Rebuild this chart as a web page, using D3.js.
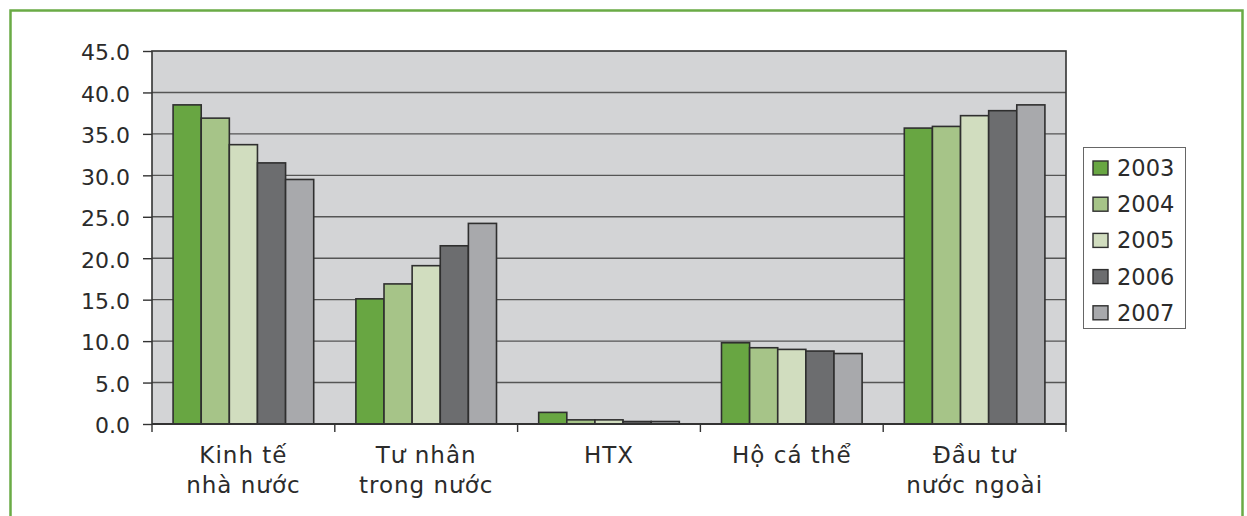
<!DOCTYPE html>
<html>
<head>
<meta charset="utf-8">
<script src="https://cdn.jsdelivr.net/npm/d3@7"></script>
<style>
  html, body { margin: 0; padding: 0; background: #fff; }
  svg { display: block; }
  text { font-family: "DejaVu Sans", sans-serif; fill: #2b2b2b; }
</style>
</head>
<body>
<svg id="chart" width="1247" height="516"></svg>
<script>
// Structure by ownership sector (%), 2003–2007
const categories = ["Kinh tế nhà nước", "Tư nhân trong nước", "HTX", "Hộ cá thể", "Đầu tư nước ngoài"];
const categoryLines = [["Kinh tế", "nhà nước"], ["Tư nhân", "trong nước"], ["HTX"], ["Hộ cá thể"], ["Đầu tư", "nước ngoài"]];
const years = ["2003", "2004", "2005", "2006", "2007"];
const values2003 = [38.5, 15.1, 1.4, 9.8, 35.7];
const values2004 = [36.9, 16.9, 0.5, 9.2, 35.9];
const values2005 = [33.7, 19.1, 0.5, 9.0, 37.2];
const values2006 = [31.5, 21.5, 0.3, 8.8, 37.8];
const values2007 = [29.5, 24.2, 0.3, 8.5, 38.5];
const yTicks = [0, 5, 10, 15, 20, 25, 30, 35, 40, 45];
const colors = ["#68a642", "#a6c488", "#d1ddbf", "#6c6d6f", "#a8a9ac"];

const series = [values2003, values2004, values2005, values2006, values2007];

const svg = d3.select("#chart");
const plot = { left: 152, top: 51, right: 1066, bottom: 424 };

// outer green frame
svg.append("rect")
  .attr("x", 10.5).attr("y", 10.5)
  .attr("width", 1232).attr("height", 520)
  .attr("fill", "none")
  .attr("stroke", "#6aab45")
  .attr("stroke-width", 2.5);

const y = d3.scaleLinear().domain([0, 45]).range([plot.bottom, plot.top]);
const x0 = d3.scaleBand().domain(categories).range([plot.left, plot.right]).padding(0);
const x1 = d3.scaleBand().domain(years).range([0, x0.bandwidth()]).paddingInner(0).paddingOuter(0.75);

// plot background
svg.append("rect")
  .attr("x", plot.left).attr("y", plot.top)
  .attr("width", plot.right - plot.left).attr("height", plot.bottom - plot.top)
  .attr("fill", "#d3d4d6");

// horizontal gridlines
svg.append("g")
  .selectAll("line")
  .data(yTicks.filter(d => d > 0 && d < 45))
  .join("line")
  .attr("x1", plot.left).attr("x2", plot.right)
  .attr("y1", d => y(d)).attr("y2", d => y(d))
  .attr("stroke", "#555")
  .attr("stroke-width", 1.4);

// bars
const groups = svg.append("g")
  .selectAll("g")
  .data(categories)
  .join("g")
  .attr("transform", d => `translate(${x0(d)},0)`);

groups.selectAll("rect")
  .data((c, ci) => years.map((yr, si) => ({ year: yr, value: series[si][ci], si })))
  .join("rect")
  .attr("x", d => x1(d.year))
  .attr("width", x1.bandwidth())
  .attr("y", d => y(d.value))
  .attr("height", d => y(0) - y(d.value))
  .attr("fill", d => colors[d.si])
  .attr("stroke", "#2f2f2f")
  .attr("stroke-width", 1.6);

// plot frame
svg.append("rect")
  .attr("x", plot.left).attr("y", plot.top)
  .attr("width", plot.right - plot.left).attr("height", plot.bottom - plot.top)
  .attr("fill", "none")
  .attr("stroke", "#333")
  .attr("stroke-width", 1.6);

// y axis
const yAxis = svg.append("g")
  .attr("transform", `translate(${plot.left},0)`)
  .call(d3.axisLeft(y).tickValues(yTicks).tickSize(9).tickPadding(13).tickFormat(d3.format(".1f")));
yAxis.select(".domain").remove();
yAxis.selectAll(".tick line").attr("stroke", "#333").attr("stroke-width", 1.4);
yAxis.selectAll(".tick text")
  .attr("font-family", "DejaVu Sans, sans-serif")
  .attr("font-size", 22)
  .attr("fill", "#2b2b2b")
  .attr("dy", "0.4em");

// x axis: boundary ticks
const bounds = categories.map(c => x0(c)).concat([x0.range()[1]]);
svg.append("g")
  .selectAll("line")
  .data(bounds)
  .join("line")
  .attr("x1", d => d).attr("x2", d => d)
  .attr("y1", plot.bottom).attr("y2", plot.bottom + 8)
  .attr("stroke", "#333")
  .attr("stroke-width", 1.4);
svg.append("line")
  .attr("x1", plot.left).attr("x2", plot.right)
  .attr("y1", plot.bottom).attr("y2", plot.bottom)
  .attr("stroke", "#333").attr("stroke-width", 1.8);

// category labels
const labels = svg.append("g")
  .selectAll("text")
  .data(categories)
  .join("text")
  .attr("text-anchor", "middle")
  .attr("font-size", 23)
  .attr("letter-spacing", 1)
  .attr("transform", d => `translate(${x0(d) + x0.bandwidth() / 2},0)`);
labels.selectAll("tspan")
  .data((d, i) => categoryLines[i])
  .join("tspan")
  .attr("x", 0)
  .attr("y", (d, i) => 463 + i * 30)
  .text(d => d);

// legend
const legend = svg.append("g").attr("transform", "translate(1083,147)");
legend.append("rect")
  .attr("x", 0.5).attr("y", 0.5)
  .attr("width", 102).attr("height", 181)
  .attr("fill", "#fff")
  .attr("stroke", "#666")
  .attr("stroke-width", 1);
const items = legend.selectAll("g.item")
  .data(years)
  .join("g")
  .attr("class", "item")
  .attr("transform", (d, i) => `translate(10,${14 + i * 36.2})`);
items.append("rect")
  .attr("width", 15).attr("height", 14)
  .attr("fill", (d, i) => colors[i])
  .attr("stroke", "#2f2f2f")
  .attr("stroke-width", 1.4);
items.append("text")
  .attr("x", 24)
  .attr("y", 15)
  .attr("font-size", 22.5)
  .text(d => d);
</script>
</body>
</html>
